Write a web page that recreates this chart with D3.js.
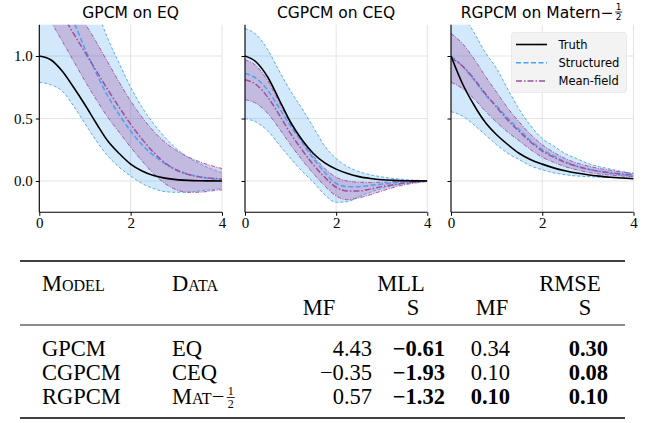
<!DOCTYPE html>
<html><head><meta charset="utf-8">
<script src="https://cdn.jsdelivr.net/npm/d3@7"></script>
<style>body{margin:0;background:#fff}</style>
</head><body>
<script>
// ---------- data ----------
const xs = [0,0.25,0.5,0.75,1,1.25,1.5,1.75,2,2.25,2.5,2.75,3,3.25,3.5,3.75,4];
const titles = ["GPCM on EQ","CGPCM on CEQ","RGPCM on Matern−"];
const xTicks = [0,2,4];
const yTicks = [0,0.5,1.0];

const p1Truth = [1.0,0.97,0.88,0.75,0.61,0.46,0.32,0.22,0.135,0.08,0.044,0.023,0.011,0.005,0.002,0.001,0.0];
const p1SLow  = [0.79,0.77,0.72,0.60,0.46,0.32,0.20,0.11,0.04,-0.02,-0.06,-0.085,-0.09,-0.09,-0.08,-0.07,-0.06];
const p1SUp   = [2.9,2.65,2.3,1.95,1.65,1.38,1.14,0.94,0.75,0.59,0.46,0.35,0.26,0.19,0.14,0.10,0.065];
const p1SMean = [1.85,1.71,1.51,1.28,1.06,0.86,0.68,0.53,0.40,0.29,0.205,0.14,0.09,0.055,0.035,0.02,0.01];
const p1MLow  = [1.45,1.28,1.12,0.96,0.80,0.65,0.51,0.39,0.27,0.16,0.06,-0.02,-0.07,-0.09,-0.09,-0.08,-0.07];
const p1MUp   = [1.9,1.72,1.55,1.4,1.26,1.11,0.95,0.79,0.64,0.51,0.4,0.31,0.245,0.195,0.155,0.125,0.1];
const p1MMean = [1.675,1.5,1.335,1.18,1.03,0.88,0.73,0.59,0.455,0.335,0.23,0.145,0.088,0.053,0.033,0.023,0.015];

const p2Truth = [1.0,0.95,0.83,0.65,0.47,0.33,0.22,0.145,0.095,0.06,0.035,0.02,0.01,0.005,0.002,0.001,0.0];
const p2SUp   = [1.22,1.17,1.05,0.88,0.72,0.58,0.43,0.28,0.18,0.115,0.075,0.05,0.033,0.02,0.012,0.006,0.002];
const p2SLow  = [0.50,0.47,0.40,0.29,0.18,0.08,-0.01,-0.11,-0.17,-0.165,-0.125,-0.09,-0.06,-0.038,-0.022,-0.01,-0.003];
const p2SMean = [0.86,0.82,0.725,0.585,0.44,0.31,0.18,0.07,-0.02,-0.045,-0.045,-0.035,-0.025,-0.015,-0.008,-0.003,0.0];
const p2MUp   = [0.97,0.92,0.8,0.63,0.46,0.32,0.2,0.1,0.03,0.0,-0.01,-0.012,-0.01,-0.007,-0.004,-0.002,0.0];
const p2MMean = [0.81,0.77,0.67,0.53,0.38,0.25,0.13,0.03,-0.05,-0.08,-0.08,-0.065,-0.045,-0.03,-0.017,-0.008,0.0];
const p2MLow  = [0.65,0.62,0.54,0.42,0.29,0.17,0.06,-0.04,-0.12,-0.15,-0.135,-0.11,-0.08,-0.053,-0.03,-0.015,-0.003];

const p3Truth = [1.0,0.78,0.61,0.47,0.37,0.29,0.22,0.17,0.135,0.105,0.082,0.064,0.05,0.039,0.03,0.024,0.018];
const p3SUp   = [1.55,1.35,1.19,1.03,0.90,0.73,0.57,0.44,0.34,0.28,0.22,0.18,0.14,0.115,0.095,0.075,0.06];
const p3SLow  = [0.555,0.52,0.45,0.37,0.29,0.22,0.17,0.12,0.09,0.065,0.05,0.04,0.035,0.03,0.027,0.025,0.022];
const p3SMean = [1.0,0.92,0.81,0.69,0.6,0.5,0.41,0.32,0.25,0.2,0.155,0.12,0.095,0.075,0.06,0.05,0.04];
const p3MUp   = [1.18,1.1,0.98,0.84,0.71,0.58,0.47,0.37,0.29,0.23,0.18,0.145,0.12,0.1,0.085,0.072,0.062];
const p3MLow  = [0.79,0.74,0.66,0.56,0.47,0.39,0.32,0.25,0.19,0.15,0.115,0.09,0.07,0.056,0.046,0.04,0.034];
const p3MMean = [0.985,0.92,0.82,0.70,0.59,0.485,0.395,0.31,0.24,0.19,0.148,0.118,0.095,0.078,0.066,0.056,0.048];

const legendLabels = ["Truth","Structured","Mean-field"];

const tModels = ["GPCM","CGPCM","RGPCM"];
const tData   = ["EQ","CEQ","Mat"];
const tMllMF  = ["4.43","−0.35","0.57"];
const tMllS   = ["−0.61","−1.93","−1.32"];
const tRmseMF = ["0.34","0.10","0.10"];
const tRmseS  = ["0.30","0.08","0.10"];
const tBoldMllMF = [false,false,false];
const tBoldMllS  = [true,true,true];
const tBoldRmseMF= [false,false,true];
const tBoldRmseS = [true,true,true];

// ---------- layout ----------
const W = 645, H = 423;
const panelX = [[39.3,222],[245,427.3],[451,633.5]];
const yTop = 24.75, yBot = 212.25;
const blue = "#4aa3f0", purple = "#9e4f9e";
const serif = "'Liberation Serif','DejaVu Serif',serif";
const sans = "'DejaVu Sans',sans-serif";

const svg = d3.select("body").append("svg").attr("width",W).attr("height",H)
  .attr("font-family", sans);

const panels = [
  {truth:p1Truth,sM:p1SMean,sL:p1SLow,sU:p1SUp,mM:p1MMean,mL:p1MLow,mU:p1MUp},
  {truth:p2Truth,sM:p2SMean,sL:p2SLow,sU:p2SUp,mM:p2MMean,mL:p2MLow,mU:p2MUp},
  {truth:p3Truth,sM:p3SMean,sL:p3SLow,sU:p3SUp,mM:p3MMean,mL:p3MLow,mU:p3MUp}
];

const y = d3.scaleLinear().domain([-0.25,1.25]).range([yBot,yTop]);

panels.forEach((p,i)=>{
  const x = d3.scaleLinear().domain([0,4]).range(panelX[i]);
  const g = svg.append("g");
  const cid = "clip"+i;
  svg.append("clipPath").attr("id",cid).append("rect")
    .attr("x",panelX[i][0]).attr("y",yTop).attr("width",panelX[i][1]-panelX[i][0]).attr("height",yBot-yTop);
  // grid
  g.selectAll(".gx").data(xTicks).join("line")
    .attr("x1",d=>x(d)).attr("x2",d=>x(d)).attr("y1",yTop).attr("y2",yBot)
    .attr("stroke","#e3e3e3").attr("stroke-width",1);
  g.selectAll(".gy").data(yTicks).join("line")
    .attr("y1",d=>y(d)).attr("y2",d=>y(d)).attr("x1",panelX[i][0]).attr("x2",panelX[i][1])
    .attr("stroke","#e3e3e3").attr("stroke-width",1);

  const c = g.append("g").attr("clip-path",`url(#${cid})`);
  const area = (lo,hi)=>d3.area().x((d,k)=>x(xs[k])).y0((d,k)=>y(lo[k])).y1((d,k)=>y(hi[k])).curve(d3.curveMonotoneX)(xs);
  const line = arr=>d3.line().x((d,k)=>x(xs[k])).y((d,k)=>y(arr[k])).curve(d3.curveMonotoneX)(xs);

  c.append("path").attr("d",area(p.sL,p.sU)).attr("fill",blue).attr("fill-opacity",0.25);
  c.append("path").attr("d",area(p.mL,p.mU)).attr("fill",purple).attr("fill-opacity",0.3);
  [p.sL,p.sU].forEach(a=>c.append("path").attr("d",line(a)).attr("fill","none")
      .attr("stroke",blue).attr("stroke-width",0.9).attr("stroke-dasharray","3,2"));
  [p.mL,p.mU].forEach(a=>c.append("path").attr("d",line(a)).attr("fill","none")
      .attr("stroke",purple).attr("stroke-width",0.9).attr("stroke-dasharray","4,1.5,1,1.5"));
  c.append("path").attr("d",line(p.sM)).attr("fill","none")
      .attr("stroke",blue).attr("stroke-width",1.5).attr("stroke-dasharray","5,2.5");
  c.append("path").attr("d",line(p.mM)).attr("fill","none")
      .attr("stroke",purple).attr("stroke-width",1.5).attr("stroke-dasharray","6,2,1.5,2");
  c.append("path").attr("d",line(p.truth)).attr("fill","none")
      .attr("stroke","#000").attr("stroke-width",1.6);

  // axes
  const ax = g.append("g").attr("transform",`translate(0,${yBot})`)
    .call(d3.axisBottom(x).tickValues(xTicks).tickFormat(d3.format("d")).tickSize(3.5).tickPadding(2));
  const ay = g.append("g").attr("transform",`translate(${panelX[i][0]},0)`)
    .call(d3.axisLeft(y).tickValues(yTicks).tickFormat(i===0?d3.format(".1f"):()=>"").tickSize(3.5).tickPadding(3));
  [ax,ay].forEach(a=>{
    a.select(".domain").attr("stroke","#000").attr("stroke-width",1.1);
    a.selectAll(".tick line").attr("stroke","#000");
    a.selectAll("text").attr("font-family",serif).attr("font-size",15).attr("fill","#000");
  });
  ax.select(".domain").attr("d",`M${panelX[i][0]},0H${panelX[i][1]}`);
  ay.select(".domain").attr("d",`M0,${yTop}V${yBot}`);

  // title
  const cx = (panelX[i][0]+panelX[i][1])/2;
  const t = svg.append("text").attr("x",cx - (i===2?5:0)).attr("y",18).attr("text-anchor","middle")
    .attr("font-size",15.5).attr("fill","#000").text(titles[i]);
  if(i===2){
    const bb = t.node().getBBox();
    const fx = bb.x+bb.width+5;
    svg.append("text").attr("x",fx).attr("y",10).attr("text-anchor","middle").attr("font-size",9).text("1");
    svg.append("line").attr("x1",fx-3.5).attr("x2",fx+3.5).attr("y1",12).attr("y2",12).attr("stroke","#000").attr("stroke-width",0.8);
    svg.append("text").attr("x",fx).attr("y",20).attr("text-anchor","middle").attr("font-size",9).text("2");
  }
});

// legend
{
  const lg = svg.append("g");
  lg.append("rect").attr("x",511.5).attr("y",32.5).attr("width",115).attr("height",60).attr("rx",2.5)
    .attr("fill","#f2f2f2").attr("fill-opacity",0.9).attr("stroke","#e6e6e6").attr("stroke-width",0.8);
  const styles = [
    {c:"#000",d:null,w:1.6},
    {c:blue,d:"5,2.5",w:1.5},
    {c:purple,d:"6,2,1.5,2",w:1.5}
  ];
  legendLabels.forEach((l,k)=>{
    const yy = 44.5 + k*18.3;
    lg.append("line").attr("x1",516).attr("x2",547).attr("y1",yy).attr("y2",yy)
      .attr("stroke",styles[k].c).attr("stroke-width",styles[k].w).attr("stroke-dasharray",styles[k].d);
    lg.append("text").attr("x",558.5).attr("y",yy+4).attr("font-size",11.5).attr("fill","#000").text(l);
  });
}

// ---------- table ----------
{
  const tg = svg.append("g").attr("font-family",serif).attr("font-size",22.5).attr("fill","#000");
  const rule = (yy,w)=>tg.append("line").attr("x1",20).attr("x2",625).attr("y1",yy).attr("y2",yy)
     .attr("stroke","#000").attr("stroke-width",w);
  rule(261,1.6); rule(325,0.9); rule(418,1.6);
  const h1 = 291, h2 = 315;
  tg.append("text").attr("x",42).attr("y",h1).style("font-variant","small-caps").text("Model");
  tg.append("text").attr("x",172).attr("y",h1).style("font-variant","small-caps").text("Data");
  tg.append("text").attr("x",401).attr("y",h1).attr("text-anchor","middle").text("MLL");
  tg.append("text").attr("x",570).attr("y",h1).attr("text-anchor","middle").text("RMSE");
  tg.append("text").attr("x",319).attr("y",h2).attr("text-anchor","middle").text("MF");
  tg.append("text").attr("x",413).attr("y",h2).attr("text-anchor","middle").text("S");
  tg.append("text").attr("x",492).attr("y",h2).attr("text-anchor","middle").text("MF");
  tg.append("text").attr("x",585).attr("y",h2).attr("text-anchor","middle").text("S");
  const cols = [
    {vals:tMllMF,bold:tBoldMllMF,x:372},
    {vals:tMllS,bold:tBoldMllS,x:445},
    {vals:tRmseMF,bold:tBoldRmseMF,x:510},
    {vals:tRmseS,bold:tBoldRmseS,x:608}
  ];
  tModels.forEach((m,r)=>{
    const yy = 356 + r*24;
    tg.append("text").attr("x",42).attr("y",yy).text(m);
    const dt = tg.append("text").attr("x",172).attr("y",yy).text(tData[r]);
    if(r===2){
      dt.style("font-variant","small-caps");
      const bb = dt.node().getBBox();
      const mx = bb.x+bb.width;
      tg.append("text").attr("x",mx).attr("y",yy).text("−");
      const fx = mx + 19;
      tg.append("text").attr("x",fx).attr("y",yy-9).attr("text-anchor","middle").attr("font-size",12).text("1");
      tg.append("line").attr("x1",fx-4).attr("x2",fx+4).attr("y1",yy-6.5).attr("y2",yy-6.5).attr("stroke","#000").attr("stroke-width",0.8);
      tg.append("text").attr("x",fx).attr("y",yy+4).attr("text-anchor","middle").attr("font-size",12).text("2");
    }
    cols.forEach(c=>{
      tg.append("text").attr("x",c.x).attr("y",yy).attr("text-anchor","end")
        .attr("font-weight",c.bold[r]?"bold":"normal").text(c.vals[r]);
    });
  });
}
</script>
</body></html>
